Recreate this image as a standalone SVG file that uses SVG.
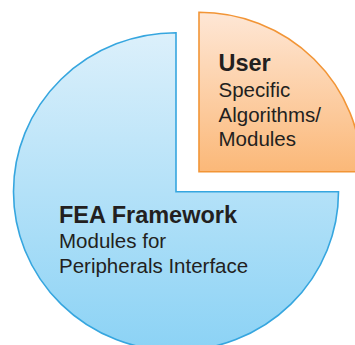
<svg xmlns="http://www.w3.org/2000/svg" width="355" height="345" viewBox="0 0 355 345">
  <defs>
    <linearGradient id="gBlue" x1="0" y1="32" x2="0" y2="345" gradientUnits="userSpaceOnUse">
      <stop offset="0" stop-color="#dcf0fb"/>
      <stop offset="1" stop-color="#8dd3f5"/>
    </linearGradient>
    <linearGradient id="gOrange" x1="0" y1="12" x2="0" y2="172" gradientUnits="userSpaceOnUse">
      <stop offset="0" stop-color="#fee7d6"/>
      <stop offset="1" stop-color="#fbb878"/>
    </linearGradient>
    <style>
      .t { font-family: "Liberation Sans", Arial, sans-serif; fill: #231f20; }
      .b { font-weight: bold; font-size: 23.5px; }
      .r { font-size: 20.5px; }
    </style>
  </defs>
  <rect width="355" height="345" fill="#ffffff"/>
  <g id="fea">
    <path d="M176,191.7 L176,32.7 A162.5,159 0 1 0 338.5,191.7 Z" fill="url(#gBlue)" stroke="#36a6df" stroke-width="1.6"/>
    <text class="t b" x="59" y="222.5">FEA Framework</text>
    <text class="t r" x="59" y="248">Modules for</text>
    <text class="t r" x="59" y="273">Peripherals Interface</text>
  </g>
  <g id="user">
    <path d="M199,171.7 L199,12.3 A162.5,159.4 0 0 1 361.5,171.7 Z" fill="url(#gOrange)" stroke="#f29536" stroke-width="1.6"/>
    <text class="t b" x="218.5" y="70.5">User</text>
    <text class="t r" x="218.5" y="96.5">Specific</text>
    <text class="t r" x="218.5" y="121.5">Algorithms/</text>
    <text class="t r" x="218.5" y="146">Modules</text>
  </g>
  <g id="connectors"/>
</svg>
